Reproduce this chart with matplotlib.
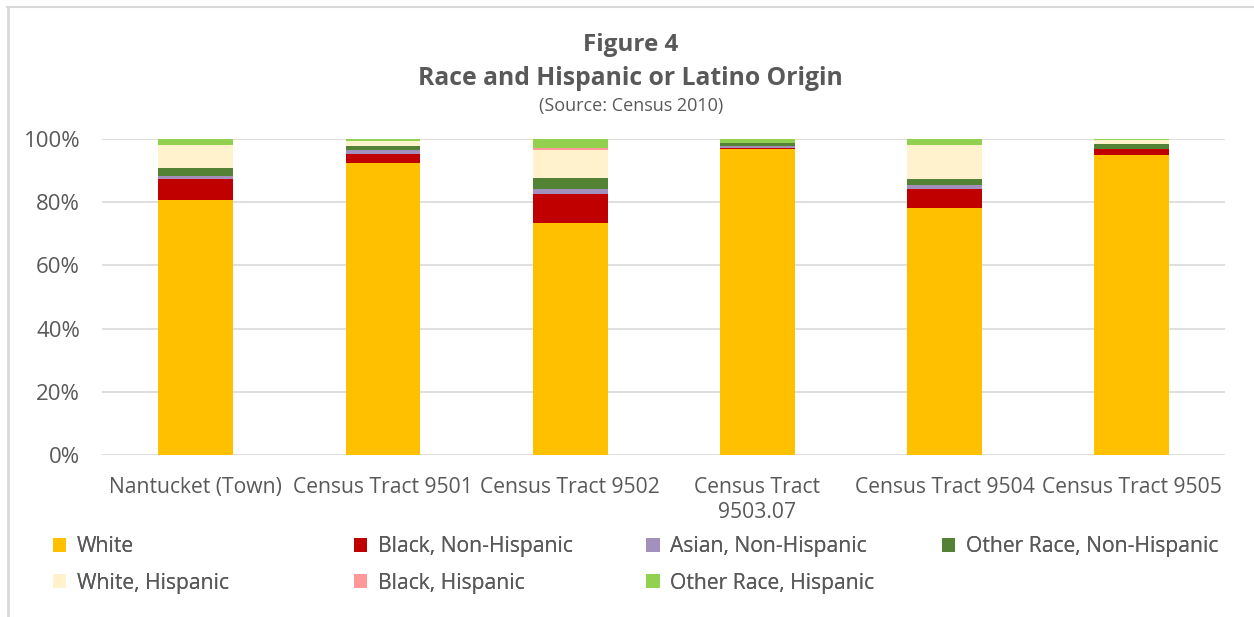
import matplotlib.pyplot as plt
import numpy as np
from matplotlib import lines
from matplotlib.ticker import PercentFormatter

categories = ["Nantucket (Town)", "Census Tract 9501", "Census Tract 9502",
              "Census Tract\n9503.07", "Census Tract 9504", "Census Tract 9505"]

# shares in percent
white = [80.6, 92.4, 73.4, 96.8, 78.3, 94.9]
black_nh = [6.6, 2.8, 9.3, 0.5, 5.8, 1.8]
asian_nh = [1.2, 1.3, 1.5, 0.4, 1.2, 0.2]
other_nh = [2.3, 1.4, 3.5, 0.9, 2.2, 1.5]
white_h = [7.3, 1.6, 8.9, 0.1, 10.7, 1.3]
black_h = [0.0, 0.0, 0.6, 0.0, 0.0, 0.0]
other_h = [2.0, 0.5, 2.8, 1.3, 1.8, 0.3]

series = [
    ("White", white, "#FFC000"),
    ("Black, Non-Hispanic", black_nh, "#C00000"),
    ("Asian, Non-Hispanic", asian_nh, "#A390BD"),
    ("Other Race, Non-Hispanic", other_nh, "#548235"),
    ("White, Hispanic", white_h, "#FFF2CC"),
    ("Black, Hispanic", black_h, "#FF9999"),
    ("Other Race, Hispanic", other_h, "#92D050"),
]

TXT = "#595959"
plt.rcParams["font.family"] = ["Open Sans", "DejaVu Sans"]

fig = plt.figure(figsize=(12.54, 6.17), dpi=100)
ax = fig.add_axes([0.0816, 0.2626, 0.8955, 0.5121])

x = np.arange(len(categories))
bottom = np.zeros(len(categories))
handles = []
for name, vals, color in series:
    vals = np.array(vals)
    b = ax.bar(x, vals, 0.4, bottom=bottom, color=color, label=name, zorder=3)
    handles.append(b)
    bottom += vals

ax.set_xlim(-0.5, 5.5)
ax.set_ylim(0, 100)
ax.set_yticks(np.arange(0, 101, 20))
ax.yaxis.set_major_formatter(PercentFormatter(decimals=0))
ax.set_xticks(x)
ax.set_xticklabels(categories, linespacing=1.25)
ax.tick_params(axis="both", length=0, colors=TXT)
ax.tick_params(axis="x", pad=16, labelsize=15.2)
ax.tick_params(axis="y", pad=16, labelsize=16)
ax.grid(axis="y", color="#D9D9D9", lw=1.2, zorder=0)
for s in ax.spines.values():
    s.set_visible(False)

# titles
fig.text(0.503, 0.927, "Figure 4", ha="center", va="center",
         fontsize=17.5, fontweight="bold", color=TXT)
fig.text(0.503, 0.872, "Race and Hispanic or Latino Origin", ha="center", va="center",
         fontsize=17.8, fontweight="bold", color=TXT)
fig.text(0.503, 0.829, "(Source: Census 2010)", ha="center", va="center",
         fontsize=13, color=TXT)

# legend laid out in Excel-like fixed columns
col_x = [0.042, 0.282, 0.515, 0.751]
rows = [[0, 1, 2, 3], [4, 5, 6]]
for r, row in enumerate(rows):
    for c, idx in enumerate(row):
        leg = fig.legend([handles[idx]], [series[idx][0]], loc="center left",
                         bbox_to_anchor=(col_x[c], 0.114 - r * 0.059),
                         frameon=False, fontsize=15.2, handlelength=0.65,
                         handleheight=0.65, handletextpad=0.5, borderaxespad=0,
                         borderpad=0, labelcolor=TXT)
        fig.add_artist(leg)

# chart border (left and top edges visible)
fig.add_artist(lines.Line2D([0.0064, 0.0064], [0, 0.989], color="#D9D9D9", lw=2))
fig.add_artist(lines.Line2D([0.0056, 1], [0.989, 0.989], color="#D9D9D9", lw=1.5))

fig.set_facecolor("white")
fig.savefig("out.png", dpi=100)
